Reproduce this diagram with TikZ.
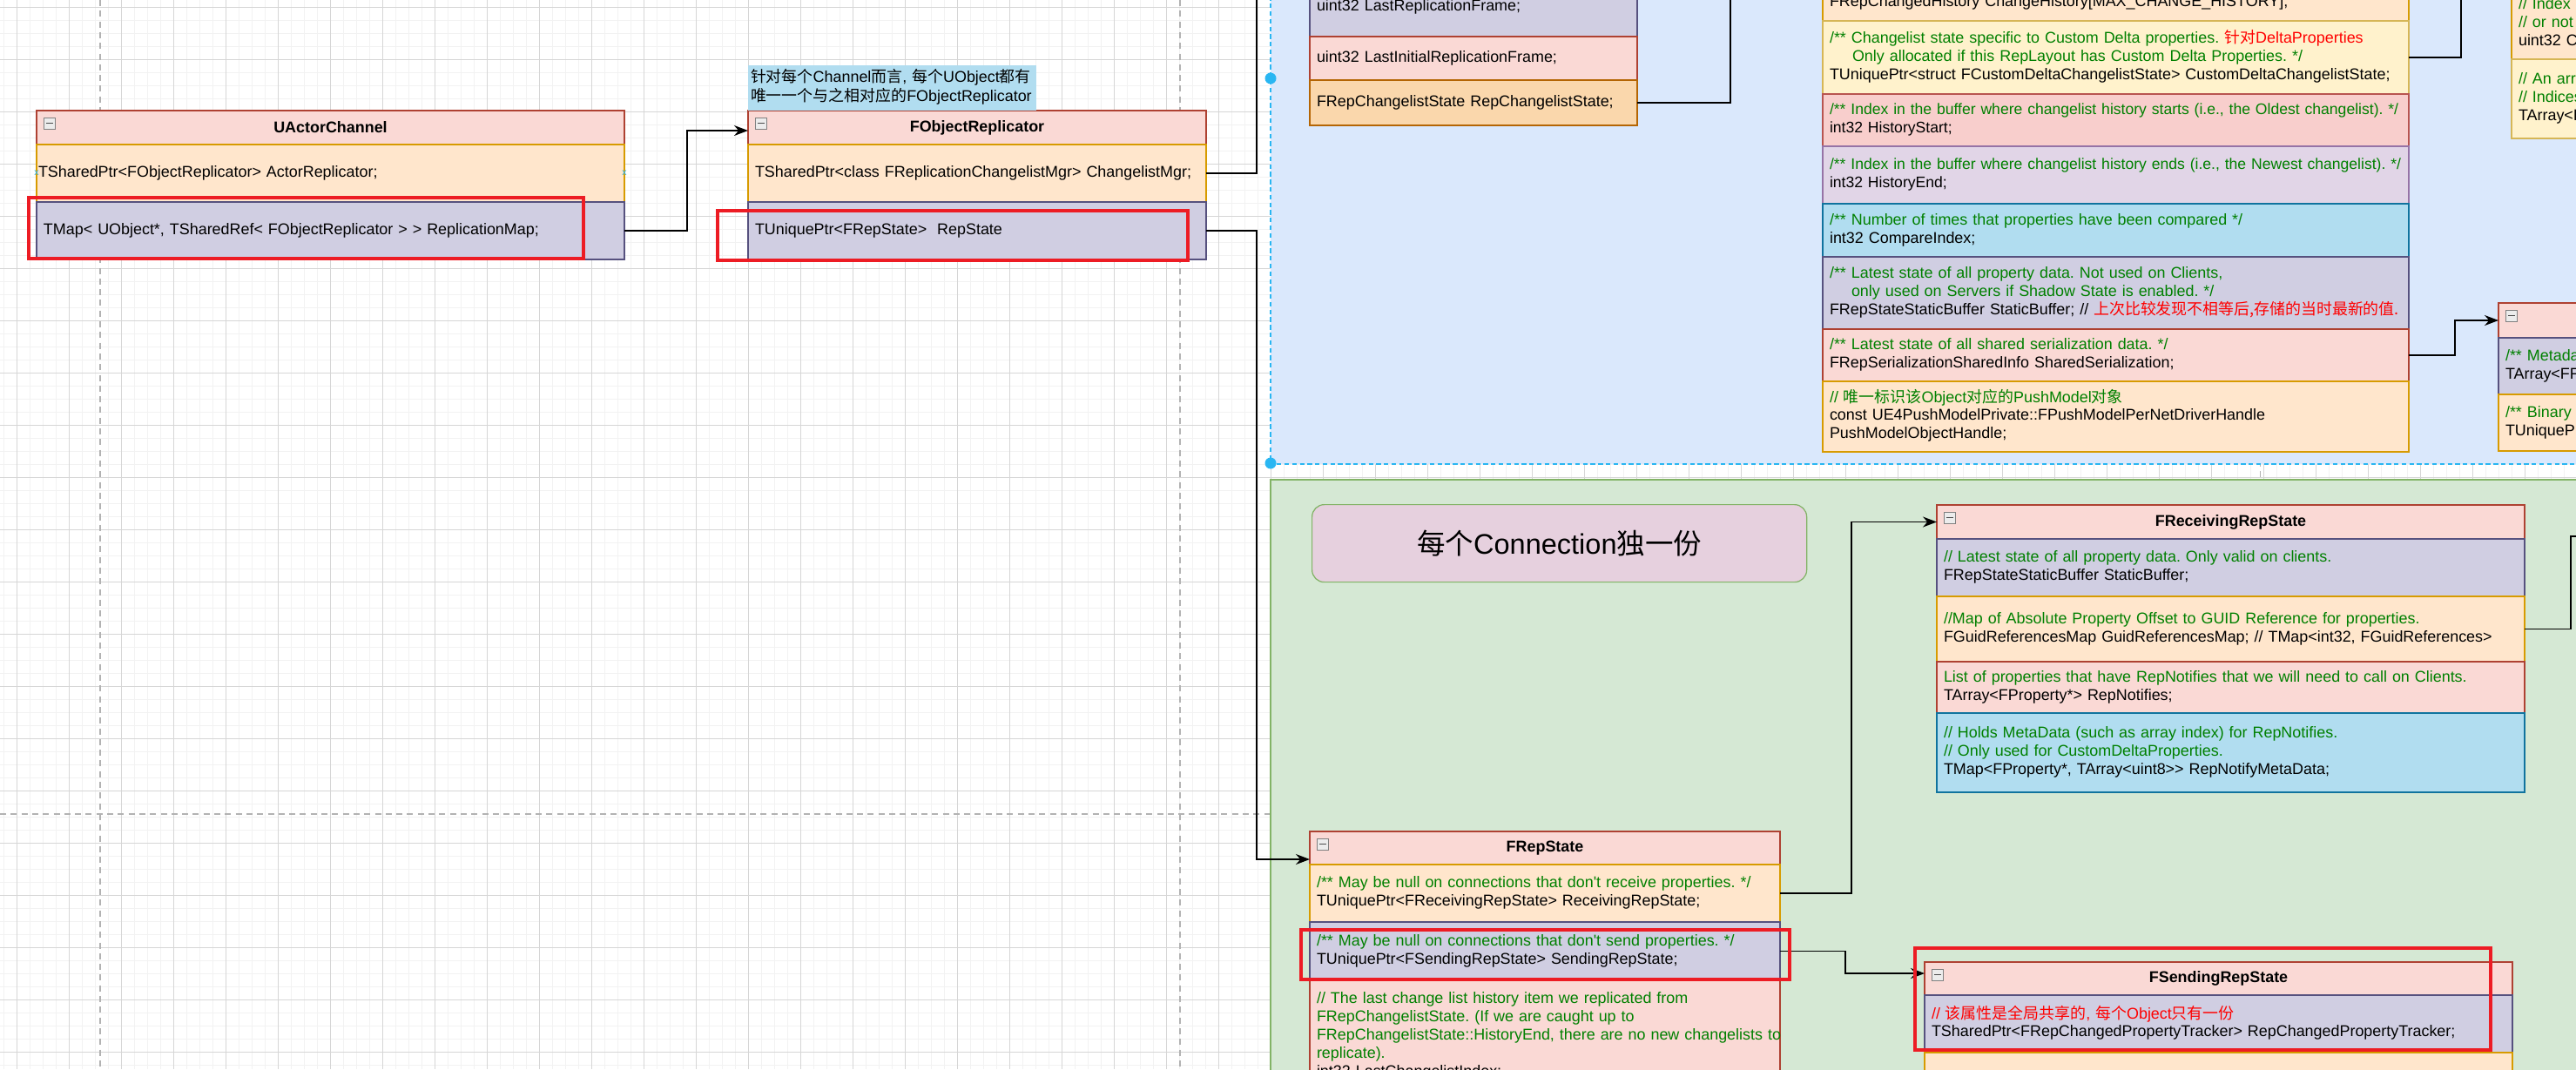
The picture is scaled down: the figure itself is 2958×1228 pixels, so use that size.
\documentclass[tikz,border=0pt]{standalone}
\usepackage{fontspec}
\setmainfont{Liberation Sans}
\newfontfamily\cjk{Noto Sans CJK SC}
\usepackage{tikz}
\usetikzlibrary{arrows.meta, positioning}
\usepackage{xcolor}

\definecolor{headfill}{HTML}{FAD9D5}\definecolor{headline}{HTML}{AE4132}
\definecolor{peachfill}{HTML}{FFE6CC}\definecolor{peachline}{HTML}{D79B00}
\definecolor{purplefill}{HTML}{D0CEE2}\definecolor{purpleline}{HTML}{56517E}
\definecolor{orangefill}{HTML}{FAD7AC}\definecolor{orangeline}{HTML}{B46504}
\definecolor{creamfill}{HTML}{FFF2CC}\definecolor{creamline}{HTML}{D6B656}
\definecolor{rosefill}{HTML}{F8CECC}\definecolor{roseline}{HTML}{B85450}
\definecolor{lilacfill}{HTML}{E1D5E7}\definecolor{lilacline}{HTML}{9673A6}
\definecolor{cyanfill}{HTML}{B1DDF0}\definecolor{cyanline}{HTML}{10739E}
\definecolor{bluearea}{HTML}{DAE8FC}\definecolor{greenarea}{HTML}{D5E8D4}\definecolor{greenline}{HTML}{82B366}
\definecolor{tagfill}{HTML}{E6D0DE}\definecolor{selblue}{HTML}{29B6F2}
\definecolor{cmtgreen}{HTML}{008000}\definecolor{hired}{HTML}{ED1C24}

\newcommand{\zh}[1]{{\cjk #1}}
\newcommand{\cmnt}[1]{\textcolor{cmtgreen}{#1}}
\newcommand{\ftext}[1]{\begin{tabular}{@{}l@{}}#1\end{tabular}}
\newcommand{\fsz}{\fontsize{10.2pt}{11.9pt}\selectfont}
\frenchspacing

\begin{document}
\begin{tikzpicture}[x=0.2mm, y=-0.2mm,
        fld/.style={rectangle, draw, line width=0.7pt, outer sep=0pt, inner xsep=1.6mm, inner ysep=0pt, align=left, font=\fsz},
        cls/.style={fld, fill=headfill, draw=headline, align=center, font=\fsz\bfseries},
        rowpeach/.style={fill=peachfill, draw=peachline},
        rowpurple/.style={fill=purplefill, draw=purpleline},
        rowpink/.style={fill=headfill, draw=headline},
        roworange/.style={fill=orangefill, draw=orangeline},
        rowcream/.style={fill=creamfill, draw=creamline},
        rowrose/.style={fill=rosefill, draw=roseline},
        rowlilac/.style={fill=lilacfill, draw=lilacline},
        rowcyan/.style={fill=cyanfill, draw=cyanline},
        narrow/.style={font=\fontsize{10pt}{11.9pt}\selectfont},
        note/.style={rectangle, fill=cyanfill, outer sep=0pt, inner xsep=0.6mm, inner ysep=0pt, text width=65mm, minimum height=10.4mm, align=left, font=\fsz},
        tag/.style={rectangle, rounded corners=2.8mm, draw=greenline, fill=tagfill, line width=0.7pt, minimum width=113.6mm, minimum height=17.8mm, font=\fontsize{18.5pt}{22pt}\selectfont},
        fold/.style={rectangle, draw=gray, fill=gray!15, line width=0.4pt, minimum size=2.6mm, inner sep=0pt, anchor=north west,
            path picture={\draw[line width=0.7pt, black!70] ([xshift=0.5mm]path picture bounding box.west) -- ([xshift=-0.5mm]path picture bounding box.east);}},
        hov/.style={text=selblue, font=\fontsize{6pt}{6pt}\selectfont, inner sep=0pt},
        link/.style={draw, line width=0.8pt},
        arrow/.style={link, -{Stealth[length=3.2mm, width=2.4mm]}},
        hilite/.style={draw=hired, line width=2.3pt},
        minorgrid/.style={draw=black!5, line width=0.3pt},
        majorgrid/.style={draw=black!16, line width=0.4pt},
        pgbreak/.style={draw=black!30, line width=0.6pt, dash pattern=on 4pt off 3pt}
    ]
    \path[use as bounding box] (0,0) rectangle (2958,1228);
    \clip (0,0) rectangle (2958,1228);

    \foreach \gx in {4,19,...,2958} \draw[minorgrid] (\gx,0) -- (\gx,1228);
    \foreach \gy in {8,23,...,1228} \draw[minorgrid] (0,\gy) -- (2958,\gy);
    \foreach \gx in {19,79,...,2958} \draw[majorgrid] (\gx,0) -- (\gx,1228);
    \foreach \gy in {8,68,...,1228} \draw[majorgrid] (0,\gy) -- (2958,\gy);
    \foreach \gx in {115,1355,2595} \draw[pgbreak] (\gx,0) -- (\gx,1228);
    \draw[pgbreak] (0,935) -- (2958,935);

    \fill[bluearea] (1459,-400) rectangle (3000,533);
    \draw[selblue, line width=0.7pt, dash pattern=on 3pt off 2pt] (1459,-400) rectangle (3000,533);
    \draw[greenline, fill=greenarea, line width=0.7pt] (1459,551) rectangle (3000,1400);
    \fill[selblue] (1459,90) circle[radius=1.3mm];
    \fill[selblue] (1459,532) circle[radius=1.3mm];

    \node[cls, text width=131.8mm, minimum height=7.8mm, anchor=north west] (ach) at (42,127) {UActorChannel};
    \node[fld, rowpeach, text width=134.2mm, inner xsep=0.4mm, minimum height=13.2mm, below=0pt of ach] (ac1) {\ftext{TSharedPtr<FObjectReplicator> ActorReplicator;}};
    \node[fld, rowpurple, text width=131.8mm, minimum height=13.2mm, below=0pt of ac1] (ac2) {\ftext{TMap< UObject*, TSharedRef< FObjectReplicator > > ReplicationMap;}};
    \node[hov] (hovl) at (ac1.west) {x};
    \node[hov] (hovr) at (ac1.east) {x};

    \node[cls, text width=102mm, minimum height=7.8mm, anchor=north west] (orh) at (859,127) {FObjectReplicator};
    \node[fld, rowpeach, text width=102mm, minimum height=13.2mm, below=0pt of orh] (or1) {\ftext{TSharedPtr<class FReplicationChangelistMgr> ChangelistMgr;}};
    \node[fld, rowpurple, text width=102mm, minimum height=13.2mm, below=0pt of or1] (or2) {\ftext{TUniquePtr<FRepState>\ \ RepState}};
    \node[note, anchor=south west] (nt) at (orh.north west) {\ftext{\zh{针对每个}Channel\zh{而言}, \zh{每个}UObject\zh{都有}\\\zh{唯一一个与之相对应的}FObjectReplicator}};

    \node[fld, rowpurple, text width=72mm, minimum height=13.6mm, anchor=north west] (ca1) at (1504,-26) {\ftext{uint32 LastReplicationFrame;}};
    \node[fld, rowpink, text width=72mm, minimum height=10mm, below=0pt of ca1] (ca2) {\ftext{uint32 LastInitialReplicationFrame;}};
    \node[fld, roworange, text width=72mm, minimum height=10.4mm, below=0pt of ca2] (ca3) {\ftext{FRepChangelistState RepChangelistState;}};

    \node[fld, rowpeach, text width=131.4mm, minimum height=8.4mm, anchor=north west] (cb0) at (2093,-18) {\ftext{FRepChangedHistory ChangeHistory[MAX\_CHANGE\_HISTORY];}};
    \node[fld, rowcream, text width=131.4mm, minimum height=16.8mm, below=0pt of cb0] (cb1) {\ftext{\cmnt{/** Changelist state specific to Custom Delta properties. }\textcolor{red}{\zh{针对}DeltaProperties}\\
        \cmnt{\hspace{5.2mm}Only allocated if this RepLayout has Custom Delta Properties. */}\\
        TUniquePtr<struct FCustomDeltaChangelistState> CustomDeltaChangelistState;}};
    \node[fld, rowrose, narrow, text width=131.4mm, minimum height=12mm, below=0pt of cb1] (cb2) {\ftext{\cmnt{/** Index in the buffer where changelist history starts (i.e., the Oldest changelist). */}\\int32 HistoryStart;}};
    \node[fld, rowlilac, narrow, text width=131.4mm, minimum height=13.2mm, below=0pt of cb2] (cb3) {\ftext{\cmnt{/** Index in the buffer where changelist history ends (i.e., the Newest changelist). */}\\int32 HistoryEnd;}};
    \node[fld, rowcyan, text width=131.4mm, minimum height=12.2mm, below=0pt of cb3] (cb4) {\ftext{\cmnt{/** Number of times that properties have been compared */}\\int32 CompareIndex;}};
    \node[fld, rowpurple, text width=131.4mm, minimum height=16.6mm, below=0pt of cb4] (cb5) {\ftext{\cmnt{/** Latest state of all property data. Not used on Clients,}\\
        \cmnt{\hspace{5mm}only used on Servers if Shadow State is enabled. */}\\
        FRepStateStaticBuffer StaticBuffer; // \textcolor{red}{\zh{上次比较发现不相等后,存储的当时最新的值.}}}};
    \node[fld, rowpink, text width=131.4mm, minimum height=12mm, below=0pt of cb5] (cb6) {\ftext{\cmnt{/** Latest state of all shared serialization data. */}\\FRepSerializationSharedInfo SharedSerialization;}};
    \node[fld, rowpeach, text width=131.4mm, minimum height=16.2mm, below=0pt of cb6] (cb7) {\ftext{\cmnt{// \zh{唯一标识该}Object\zh{对应的}PushModel\zh{对象}}\\
        const UE4PushModelPrivate::FPushModelPerNetDriverHandle\\PushModelObjectHandle;}};

    \node[cls, text width=76.8mm, minimum height=8mm, anchor=north west] (cch) at (2869,348) {};
    \node[fld, rowpurple, text width=76.8mm, minimum height=13mm, below=0pt of cch] (cc1) {\ftext{\cmnt{/** Metada}\\TArray<FF}};
    \node[fld, rowpeach, text width=76.8mm, minimum height=13mm, below=0pt of cc1] (cc2) {\ftext{\cmnt{/** Binary}\\TUniqueP}};

    \node[fld, rowpeach, text width=76.8mm, minimum height=16.4mm, anchor=north west] (cd1) at (2884,-14) {\ftext{\cmnt{// Index}\\\cmnt{// or not}\\uint32 C}};
    \node[fld, rowcream, text width=76.8mm, minimum height=18.2mm, below=0pt of cd1] (cd2) {\ftext{\cmnt{// An arra}\\\cmnt{// Indices}\\TArray<I}};

    \node[tag, anchor=north west] (lbl) at (1506,579) {\zh{每个}Connection\zh{独一份}};

    \node[cls, text width=131.8mm, minimum height=7.8mm, anchor=north west] (rvh) at (2224,580) {FReceivingRepState};
    \node[fld, rowpurple, text width=131.8mm, minimum height=13.2mm, below=0pt of rvh] (rv1) {\ftext{\cmnt{// Latest state of all property data. Only valid on clients.}\\FRepStateStaticBuffer StaticBuffer;}};
    \node[fld, rowpeach, text width=131.8mm, minimum height=15mm, below=0pt of rv1] (rv2) {\ftext{\cmnt{//Map of Absolute Property Offset to GUID Reference for properties.}\\FGuidReferencesMap GuidReferencesMap; // TMap<int32, FGuidReferences>}};
    \node[fld, rowpink, text width=131.8mm, minimum height=11.8mm, below=0pt of rv2] (rv3) {\ftext{\cmnt{List of properties that have RepNotifies that we will need to call on Clients.}\\TArray<FProperty*> RepNotifies;}};
    \node[fld, rowcyan, text width=131.8mm, minimum height=18.2mm, below=0pt of rv3] (rv4) {\ftext{\cmnt{// Holds MetaData (such as array index) for RepNotifies.}\\\cmnt{// Only used for CustomDeltaProperties.}\\TMap<FProperty*, TArray<uint8>{}> RepNotifyMetaData;}};

    \node[cls, text width=104.8mm, minimum height=7.6mm, anchor=north west] (rsh) at (1504,955) {FRepState};
    \node[fld, rowpeach, text width=104.8mm, minimum height=13.2mm, below=0pt of rsh] (rs1) {\ftext{\cmnt{/** May be null on connections that don\textquotesingle t receive properties. */}\\TUniquePtr<FReceivingRepState> ReceivingRepState;}};
    \node[fld, rowpurple, text width=104.8mm, minimum height=13.4mm, below=0pt of rs1] (rs2) {\ftext{\cmnt{/** May be null on connections that don\textquotesingle t send properties. */}\\TUniquePtr<FSendingRepState> SendingRepState;}};
    \node[fld, rowpink, text width=104.8mm, minimum height=25.6mm, below=0pt of rs2] (rs3) {\ftext{\cmnt{// The last change list history item we replicated from}\\\cmnt{FRepChangelistState. (If we are caught up to}\\
        \cmnt{FRepChangelistState::HistoryEnd, there are no new changelists to}\\\cmnt{replicate).}\\int32 LastChangelistIndex;}};

    \node[cls, text width=131.8mm, minimum height=7.6mm, anchor=north west] (sdh) at (2210,1105) {FSendingRepState};
    \node[fld, rowpurple, text width=131.8mm, minimum height=13.2mm, below=0pt of sdh] (sd1) {\ftext{\textcolor{red}{// \zh{该属性是全局共享的}, \zh{每个}Object\zh{只有一份}}\\TSharedPtr<FRepChangedPropertyTracker> RepChangedPropertyTracker;}};
    \node[fld, rowpeach, text width=131.8mm, minimum height=16.2mm, below=0pt of sd1] (sd2) {};

    \foreach \h in {ach,orh,cch,rvh,rsh,sdh}
        \node[fold] (fold-\h) at ([shift={(8,8)}]\h.north west) {};

    \coordinate (mgrtop) at (1443,-10);
    \coordinate (catop) at (1987,-10);
    \coordinate (cbtop) at (2826,-10);
    \coordinate (rvout) at (2970,616);
    \draw[arrow] (ac2.east) -- ++(72,0) |- ([yshift=-0.7mm]orh.west);
    \draw[link] (or1.east) -| (mgrtop);
    \draw[arrow] (or2.east) -- ++(58,0) |- ([yshift=-2.6mm]rsh.west);
    \draw[link] (ca3.east) -| (catop);
    \draw[link] (cb1.east) -| (cbtop);
    \draw[arrow] (cb6.east) -- ++(53,0) |- (cch.west);
    \draw[link] (rv2.east) -- ++(53,0) |- (rvout);
    \draw[arrow] (rs1.east) -- ++(82,0) |- (rvh.west);
    \draw[arrow] (rs2.east) -- ++(75,0) |- ([yshift=1.2mm]sdh.west);

    \draw[hilite] (33,227) rectangle (670,297);
    \draw[hilite] (824,242) rectangle (1364,299);
    \draw[hilite] (1494,1068) rectangle (2055,1125);
    \draw[hilite] (2199,1089) rectangle (2860,1206);
\end{tikzpicture}
\end{document}
